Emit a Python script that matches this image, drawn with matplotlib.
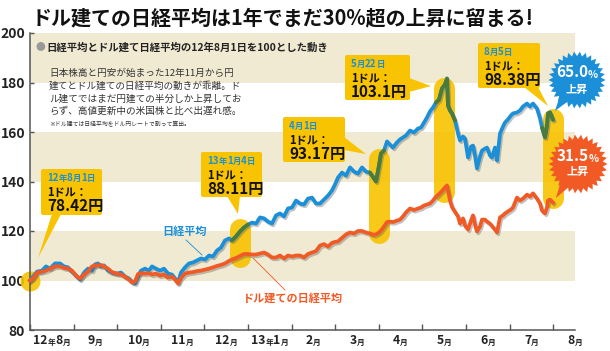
import re
import numpy as np
import matplotlib
matplotlib.use("Agg")
import matplotlib.pyplot as plt
import matplotlib.transforms as mtransforms
import matplotlib.patheffects as pe
from matplotlib.patches import Polygon, FancyBboxPatch
from matplotlib.lines import Line2D

# ---------------- data ----------------
# months elapsed since 2012-08-01
months = [
    0.000, 0.069, 0.161, 0.275, 0.367, 0.459, 0.573, 0.688, 0.780, 0.872,
    0.963, 1.055, 1.147, 1.239, 1.330, 1.422, 1.491, 1.560, 1.628, 1.697,
    1.789, 1.881, 1.995, 2.087, 2.179, 2.271, 2.339, 2.408, 2.477, 2.546,
    2.638, 2.729, 2.798, 2.890, 2.982, 3.073, 3.165, 3.257, 3.326, 3.394,
    3.463, 3.555, 3.647, 3.739, 3.830, 3.922, 4.014, 4.106, 4.197, 4.289,
    4.381, 4.472, 4.564, 4.633, 4.725, 4.817, 4.908, 5.000, 5.092, 5.183,
    5.275, 5.367, 5.459, 5.550, 5.642, 5.734, 5.826, 5.917, 6.009, 6.101,
    6.193, 6.284, 6.376, 6.468, 6.560, 6.651, 6.743, 6.835, 6.927, 6.995,
    7.064, 7.156, 7.248, 7.339, 7.431, 7.523, 7.615, 7.706, 7.798, 7.890,
    7.936, 8.005, 8.050, 8.119, 8.188, 8.257, 8.326, 8.417, 8.486, 8.555,
    8.624, 8.716, 8.807, 8.899, 8.968, 9.037, 9.106, 9.174, 9.243, 9.312,
    9.381, 9.450, 9.518, 9.564, 9.587, 9.633, 9.679, 9.748, 9.817, 9.862,
    9.931, 9.977, 10.046, 10.115, 10.161, 10.206, 10.252, 10.321, 10.367, 10.436,
    10.482, 10.550, 10.596, 10.665, 10.711, 10.780, 10.849, 10.894, 10.963, 11.032,
    11.078, 11.170, 11.239, 11.307, 11.399, 11.468, 11.537, 11.628, 11.697, 11.743,
    11.812, 11.858, 11.881, 11.927, 11.995,
]
nikkei = [
    100.0, 101.6, 103.6, 104.0, 105.7, 104.8, 106.9, 106.9, 105.7, 105.3,
    103.6, 102.0, 100.4, 103.2, 104.8, 104.0, 106.5, 106.9, 105.7, 106.1,
    104.0, 103.2, 102.8, 103.2, 101.6, 100.8, 99.6, 98.8, 101.6, 104.0,
    104.8, 104.0, 105.7, 104.8, 104.0, 104.8, 102.8, 102.4, 100.8, 99.2,
    103.2, 105.3, 106.9, 107.3, 108.1, 108.9, 108.5, 110.1, 109.7, 112.1,
    113.3, 116.2, 117.0, 116.2, 117.8, 119.8, 121.4, 122.6, 123.4, 123.0,
    125.5, 125.1, 123.8, 123.0, 126.3, 127.1, 125.9, 129.1, 129.5, 132.3,
    131.1, 130.7, 133.1, 133.5, 131.1, 131.1, 132.7, 134.3, 136.4, 138.8,
    141.6, 143.6, 142.4, 145.7, 144.0, 143.2, 145.7, 144.0, 143.6, 141.2,
    140.0, 146.5, 151.3, 152.5, 156.2, 154.9, 153.7, 155.8, 157.0, 157.8,
    158.6, 160.6, 159.8, 161.4, 161.8, 163.8, 165.9, 168.3, 169.9, 171.9,
    173.1, 177.6, 179.2, 181.6, 170.7, 168.7, 167.5, 164.6, 159.4, 156.6,
    158.2, 157.4, 149.7, 154.1, 154.5, 150.5, 145.3, 150.1, 152.5, 153.3,
    153.7, 150.5, 149.7, 153.7, 148.5, 159.4, 162.2, 163.8, 165.1, 166.7,
    167.5, 167.9, 168.7, 170.3, 171.5, 170.3, 171.5, 169.5, 165.5, 161.8,
    157.8, 162.6, 167.5, 167.9, 165.0,
]
nikkei_usd = [
    100.0, 100.8, 103.2, 103.6, 104.0, 104.8, 105.7, 105.7, 105.1, 104.8,
    104.0, 102.0, 100.8, 102.4, 103.6, 105.7, 106.1, 106.1, 106.3, 105.7,
    104.8, 103.4, 102.8, 102.4, 101.6, 100.4, 99.2, 99.6, 102.6, 103.0,
    102.8, 103.0, 102.4, 102.8, 102.0, 102.4, 101.2, 101.6, 100.4, 98.8,
    101.0, 102.8, 103.2, 103.4, 103.8, 104.0, 104.4, 104.8, 105.3, 105.9,
    106.3, 106.9, 107.9, 108.5, 109.1, 109.9, 110.7, 110.7, 110.5, 110.5,
    110.9, 111.3, 110.5, 109.3, 109.3, 110.1, 108.9, 110.1, 109.7, 110.1,
    110.1, 109.3, 110.7, 111.3, 111.9, 114.1, 114.7, 113.7, 115.2, 115.6,
    115.8, 117.2, 118.6, 119.4, 119.0, 120.0, 120.0, 119.4, 119.0, 118.4,
    118.7, 119.4, 120.2, 121.8, 123.6, 123.8, 123.6, 124.2, 124.6, 125.9,
    127.5, 129.1, 128.5, 129.1, 129.5, 130.3, 130.7, 131.1, 132.3, 133.9,
    134.9, 136.2, 137.6, 138.4, 136.4, 132.3, 129.7, 127.7, 125.9, 123.0,
    125.1, 122.2, 120.6, 124.2, 126.3, 122.6, 119.8, 121.8, 124.6, 124.6,
    123.8, 123.0, 122.0, 120.6, 119.4, 125.5, 126.3, 127.1, 127.9, 128.7,
    129.5, 133.5, 132.3, 133.1, 134.7, 133.9, 135.2, 133.1, 131.1, 128.3,
    127.1, 129.5, 132.3, 132.7, 131.5,
]
month_labels = ["12年8月", "9月", "10月", "11月", "12月", "13年1月", "2月",
                "3月", "4月", "5月", "6月", "7月", "8月"]
y_ticks = [80, 100, 120, 140, 160, 180, 200]
bands = [(100, 120), (140, 160), (180, 200)]

# highlighted dates (capsules) : centre month, value range
hl_center = [4.817, 8.005, 9.495, 12.0]
hl_lo = [105.3, 115.0, 131.5, 129.1]
hl_hi = [125.1, 153.3, 182.0, 169.5]
green_lo = [4.62, 7.75, 9.29, 11.74]
green_hi = [5.05, 8.14, 9.80, 12.0]

callout_dates = ["12年8月1日", "13年1月4日", "4月1日", "5月22日", "8月5日"]
callout_rates = ["78.42", "88.11", "93.17", "103.1", "98.38"]
gains = ["65.0", "31.5"]

title = "ドル建ての日経平均は1年でまだ30%超の上昇に留まる!"
header = "日経平均とドル建て日経平均の12年8月1日を100とした動き"
body = ["日本株高と円安が始まった12年11月から円",
        "建てとドル建ての日経平均の動きが乖離。ド",
        "ル建てではまだ円建ての半分しか上昇してお",
        "らず、高値更新中の米国株と比べ出遅れ感。"]
note = "※ドル建ては日経平均をドル円レートで割って算出。"
label_nk = "日経平均"
label_usd = "ドル建ての日経平均"

# ---------------- style ----------------
BLUE = "#1b8fd8"
ORANGE = "#f15a24"
GREEN = "#4b7b3a"
YEL = "#f8c300"
BEIGE = "#f0ead2"
DARK = "#222222"
JP = ["Noto Sans CJK JP", "DejaVu Sans"]
NUM = ["Liberation Sans Narrow", "Noto Sans CJK JP", "DejaVu Sans"]

W, H = 610, 351
fig = plt.figure(figsize=(W / 100, H / 100), dpi=100)
fig.patch.set_facecolor("white")
P = mtransforms.Affine2D().scale(1 / W, -1 / H).translate(0, 1) + fig.transFigure

AX_L, AX_R, AX_T, AX_B = 30, 575, 33, 330
ax = fig.add_axes([AX_L / W, 1 - AX_B / H, (AX_R - AX_L) / W, (AX_B - AX_T) / H])
ax.set_xlim(0, 12.5)
ax.set_ylim(80, 200)
ax.set_facecolor("white")
for lo, hi in bands:
    ax.axhspan(lo, hi, color=BEIGE, lw=0, zorder=0)

for s in ("top", "right"):
    ax.spines[s].set_visible(False)
for s in ("left", "bottom"):
    ax.spines[s].set_color("#555555")
    ax.spines[s].set_linewidth(1.1)

ax.set_xticks(range(13))
ax.set_xticklabels([])
ax.tick_params(axis="x", direction="in", length=4, color="#555555", width=1)
ax.set_yticks(y_ticks)
ax.set_yticklabels([str(v) for v in y_ticks])
ax.tick_params(axis="y", direction="in", length=3, color="#555555", width=1, pad=3.5)
for lab in ax.get_yticklabels():
    lab.set_family(NUM)
    lab.set_weight("bold")
    lab.set_fontsize(10)
    lab.set_color(DARK)

# capsules
cap_px = 21
px_per_unit = ax.transData.transform((0, 1))[1] - ax.transData.transform((0, 0))[1]
inset = (cap_px / 2) / px_per_unit
for xc, lo, hi in zip(hl_center, hl_lo, hl_hi):
    ax.plot([xc, xc], [lo + inset, hi - inset], color=YEL, lw=cap_px * 0.72,
            solid_capstyle="round", alpha=0.9, zorder=2, clip_on=False)
ax.plot([months[0]], [nikkei[0]], "o", ms=20 * 0.72, color=YEL, mec="none",
        alpha=0.9, zorder=2, clip_on=False)

# lines
shadow = [pe.SimpleLineShadow(offset=(1.0, -1.3), shadow_color="#555555", alpha=0.35),
          pe.Normal()]
m = np.array(months)
nk = np.array(nikkei)
ax.plot(m, nk, color=BLUE, lw=2.7, zorder=4, path_effects=shadow,
        solid_joinstyle="round", clip_on=False)
for a, b in zip(green_lo, green_hi):
    sel = (m >= a) & (m <= b)
    ax.plot(m[sel], nk[sel], color=GREEN, lw=2.7, zorder=5,
            solid_joinstyle="round", solid_capstyle="round", clip_on=False)
ax.plot(m, nikkei_usd, color=ORANGE, lw=2.7, zorder=4, path_effects=shadow,
        solid_joinstyle="round", clip_on=False)

# ---------------- helpers ----------------
groups = []


def ptext(x, y, s, **kw):
    """Text placed in reference pixel coordinates, drawn within the axes."""
    kw.setdefault("clip_on", False)
    return ax.text(x, y, s, transform=P, **kw)


def mixed(parts, x, y, color=DARK, center=True, z=10):
    """parts: list of (text, size, family)."""
    first = ptext(x, y, parts[0][0], fontsize=parts[0][1], family=parts[0][2],
                  weight="bold", color=color, ha="left", va="baseline", zorder=z)
    arts = [first]
    prev = first
    for s, sz, fam in parts[1:]:
        a = ax.annotate(s, xy=(1, 0), xycoords=prev, ha="left", va="bottom",
                        fontsize=sz, family=fam, weight="bold", color=color,
                        annotation_clip=False, zorder=z)
        arts.append(a)
        prev = a
    groups.append((arts, x, center))
    return arts


def split_num(s, big, small):
    out = []
    for tok in re.findall(r"\d+|\D+", s):
        if tok.isdigit():
            out.append((tok, big, NUM))
        else:
            out.append((tok, small, JP))
    return out


# month labels
for i, lab in enumerate(month_labels):
    xc = ax.transData.transform((i + 0.5, 0))[0]
    mixed(split_num(lab, 8.8, 5.6), xc, 344)

# ---------------- titles / notes ----------------
fig.text(32, 18, title, transform=P, fontsize=14.4, weight="bold", family=JP,
         color="#111111", va="center", ha="left")
ptext(36, 47, "●", fontsize=7, family=JP, color="#999999", va="center", ha="left", zorder=9)
ptext(46.5, 47, header, fontsize=7.5, weight="bold", family=JP,
      color="#222222", va="center", ha="left", zorder=9)
for k, line in enumerate(body):
    ptext(49, 73 + k * 12.8, line, fontsize=6.9, family=JP,
          color="#333333", va="center", ha="left", zorder=9)
ptext(49, 124, note, fontsize=4.2, family=JP, color="#333333",
      va="center", ha="left", zorder=9)

# line labels with leader lines
ptext(162, 232, label_nk, fontsize=8, weight="bold", family=JP,
      color=BLUE, va="center", ha="left", zorder=9)
ax.add_line(Line2D([186, 202], [240, 255], transform=P, color=BLUE, lw=0.6,
                   clip_on=False, zorder=3))
ptext(243, 298, label_usd, fontsize=8, weight="bold", family=JP,
      color=ORANGE, va="center", ha="left", zorder=9)
ax.add_line(Line2D([253, 285], [258, 290], transform=P, color=ORANGE, lw=0.6,
                   clip_on=False, zorder=3))

# ---------------- callout boxes ----------------
boxes = [  # left, top, right, bottom, tail polygon (base1, base2, tip)
    (41, 169, 102, 215, [(52, 214), (61, 214), (38, 258)]),
    (201, 152, 262, 197, [(227, 196), (240, 196), (238, 214)]),
    (283, 117, 345, 162, [(344, 137), (344, 150), (366, 154)]),
    (345, 55, 410, 100, [(409, 78), (409, 92), (431, 86)]),
    (478, 43, 540, 88, [(524, 87), (538, 87), (548, 106)]),
]
for (l, t, r, b, tail), d, rate in zip(boxes, callout_dates, callout_rates):
    ax.add_patch(FancyBboxPatch((l, t), r - l, b - t,
                                boxstyle="round,pad=0,rounding_size=2",
                                transform=P, fc=YEL, ec="none", zorder=6,
                                clip_on=False))
    ax.add_patch(Polygon(tail, closed=True, transform=P, fc=YEL, ec="none",
                         zorder=6, clip_on=False))
    mixed(split_num(d, 7, 6), l + 6, t + 12, color=BLUE, center=False)
    ptext(l + 6, t + 23.5, "1ドル：", fontsize=8, weight="bold",
          family=JP, color="#111111", va="center", ha="left", zorder=10)
    ptext(l + 6, t + 37, rate + "円", fontsize=11, weight="bold",
          family=NUM, color="#111111", va="center", ha="left", zorder=10)

# ---------------- starbursts ----------------
bursts = [((577, 80), 28.5, BLUE, (555, 111), 77, 89),
          ((578, 164), 29.5, ORANGE, (556, 198), 161, 171.5)]
for b, g in zip(bursts, gains):
    (cx, cy), r, col, tip, ty1, ty2 = b
    n = 30
    ang = np.linspace(0, 2 * np.pi, 2 * n, endpoint=False)
    rad = np.where(np.arange(2 * n) % 2 == 0, r, r * 0.84)
    pts = np.column_stack([cx + rad * np.cos(ang), cy + rad * np.sin(ang)])
    ax.add_patch(Polygon(pts, closed=True, transform=P, fc=col, ec="none",
                         zorder=7, clip_on=False))
    th = np.arctan2(tip[1] - cy, tip[0] - cx)
    rb = r * 0.8
    base1 = (cx + rb * np.cos(th - 0.22), cy + rb * np.sin(th - 0.22))
    base2 = (cx + rb * np.cos(th + 0.22), cy + rb * np.sin(th + 0.22))
    ax.add_patch(Polygon([base1, base2, tip], closed=True, transform=P, fc=col,
                         ec="none", zorder=7, clip_on=False))
    mixed([(g, 11, NUM), ("%", 7.5, NUM)], cx, ty1, color="white", center=True, z=11)
    ptext(cx, ty2, "上昇", fontsize=8, weight="bold",
          family=JP, color="white", va="center", ha="center", zorder=11)

# ---------------- centre the mixed groups ----------------
fig.canvas.draw()
r_ = fig.canvas.get_renderer()
for arts, x, center in groups:
    if not center:
        continue
    x0 = arts[0].get_window_extent(r_).x0
    x1 = arts[-1].get_window_extent(r_).x1
    w = x1 - x0
    arts[0].set_x(x - w / 2)

fig.savefig("out.png", dpi=100, facecolor="white")
